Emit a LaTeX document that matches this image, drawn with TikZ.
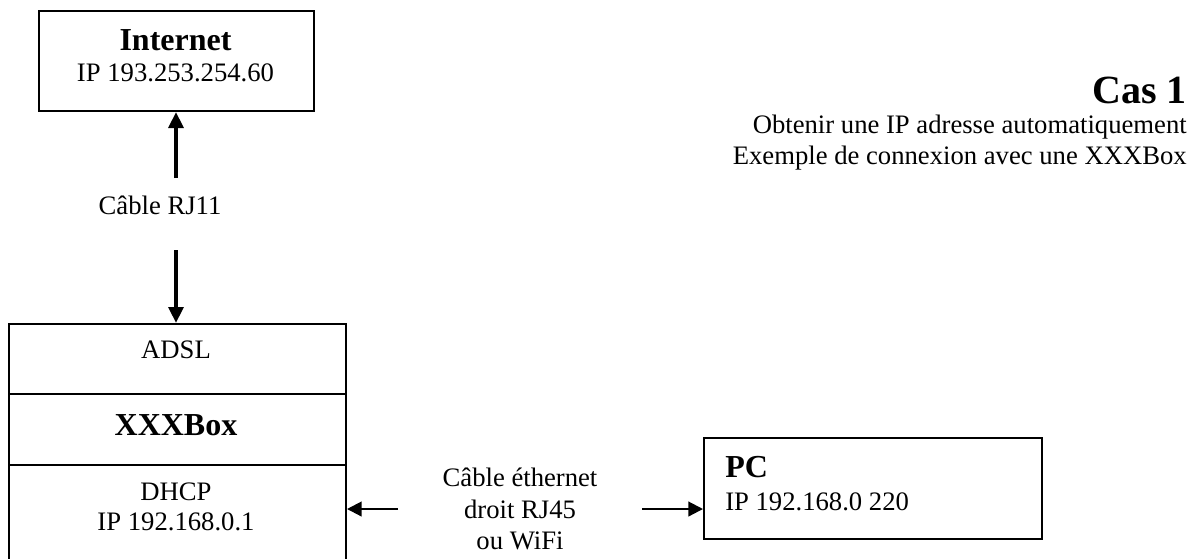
\documentclass[tikz,border=0pt]{standalone}
\usepackage{fontspec}
\setmainfont{Liberation Serif}
\usetikzlibrary{arrows.meta}
\begin{document}
\begin{tikzpicture}[x=0.75pt,y=-0.75pt,
  txt/.style={font=\fontsize{20}{23.6}\selectfont, inner sep=0pt, align=center},
  hd/.style={font=\fontsize{24}{28}\selectfont\bfseries, inner sep=0pt},
  cas/.style={font=\fontsize{30}{34}\selectfont\bfseries, inner sep=0pt},
  boxline/.style={draw, line width=1.5pt, inner sep=0pt, anchor=north west},
  bigarrow/.style={line width=3pt, -{Triangle[length=12pt,width=11pt]}},
  smallarrow/.style={line width=1.6pt, -{Triangle[length=11pt,width=11pt]}}
]
\useasboundingbox (0,0) rectangle (1194,558);
\clip (0,0) rectangle (1194,558);

% Internet box
\node[boxline, minimum width=206.25pt, minimum height=75pt] (inet) at (38,10) {};
\node[hd] (inettitle) at (175.5,40) {Internet};
\node[txt] (inetip) at (175.5,73) {IP 193.253.254.60};

% XXXBox
\node[boxline, minimum width=252.75pt, minimum height=52.5pt] (adsl) at (8,323) {};
\node[boxline, minimum width=252.75pt, minimum height=53.25pt] (xbox) at (8,393) {};
\node[boxline, minimum width=252.75pt, minimum height=102pt] (dhcp) at (8,464) {};
\node[txt] (adsltxt) at (176,350) {ADSL};
\node[hd] (xboxtxt) at (176,425) {XXXBox};
\node[txt] (dhcptxt) at (176,492) {DHCP};
\node[txt] (dhcpip) at (176,522) {IP 192.168.0.1};

% PC box
\node[boxline, minimum width=253.5pt, minimum height=75.75pt] (pc) at (703,437) {};
\node[hd, anchor=west] (pctitle) at (725,467) {PC};
\node[txt, anchor=west] (pcip) at (725,502) {IP 192.168.0 220};

% labels
\node[txt] (rj11) at (160,205) {Câble RJ11};
\node[txt] (eth) at (520,509) {Câble éthernet\\droit RJ45\\ou WiFi};

% title
\node[cas, anchor=east] (cas1) at (1187,90) {Cas 1};
\node[txt, anchor=east] (l1) at (1187,127) {Obtenir une IP adresse automatiquement};
\node[txt, anchor=east] (l2) at (1187,158) {Exemple de connexion avec une XXXBox};

% arrows
\coordinate (upstart) at (176,178);
\coordinate (downstart) at (176,250);
\coordinate (lstart) at (398,509);
\coordinate (rstart) at (642,509);
\draw[bigarrow] (upstart) -- (upstart |- inet.south);
\draw[bigarrow] (downstart) -- (downstart |- adsl.north);
\draw[smallarrow] (lstart) -- (lstart -| dhcp.east);
\draw[smallarrow] (rstart) -- (rstart -| pc.west);
\end{tikzpicture}
\end{document}
